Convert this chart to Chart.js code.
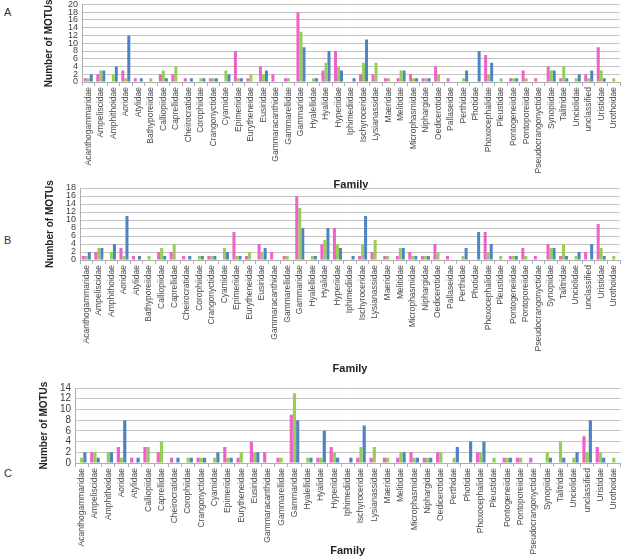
<!DOCTYPE html>
<html>
<head>
<meta charset="utf-8">
<script src="https://cdn.jsdelivr.net/npm/chart.js@4.4.1/dist/chart.umd.min.js"></script>
<style>
  body { margin: 0; background: #fff; width: 625px; height: 560px; position: relative; overflow: hidden; }
  canvas { position: absolute; left: 0; }
  .tag { position: absolute; left: 4px; font: 11px "Liberation Sans", Arial, sans-serif; color: #333; }
</style>
</head>
<body>
<div class="tag" style="top:6px">A</div>
<div class="tag" style="top:234px">B</div>
<div class="tag" style="top:467px">C</div>
<canvas id="chart-a" width="625" height="196" style="top:-4px"></canvas>
<canvas id="chart-b" width="625" height="205" style="top:171px"></canvas>
<canvas id="chart-c" width="625" height="187" style="top:371px"></canvas>
<script>
// families shown in panels A and B
var familiesAB = ['Acanthogammaridae', 'Ampeliscidae', 'Amphithoidae', 'Aoridae', 'Atylidae',
    'Bathyporeiidae', 'Calliopiidae', 'Caprellidae', 'Cheirocratidae', 'Corophiidae',
    'Crangonyctidae', 'Cyamidae', 'Epimeriidae', 'Eurytheneidae', 'Eusiridae',
    'Gammaracanthidae', 'Gammarellidae', 'Gammaridae', 'Hyalellidae', 'Hyalidae',
    'Hyperiidae', 'Iphimediidae', 'Ischyroceridae', 'Lysianassidae', 'Maeridae',
    'Melitidae', 'Microphasmidae', 'Niphargidae', 'Oedicerotidae', 'Pallaseidae',
    'Perthidae', 'Photidae', 'Phoxocephalidae', 'Pleustidae', 'Pontogeneiidae',
    'Pontoporeiidae', 'Pseudocrangonyctidae', 'Synopiidae', 'Talitridae', 'Unciolidae',
    'unclassified', 'Uristidae', 'Urothoidae'];

// panel C has no Bathyporeiidae / Pallaseidae
var familiesC = ['Acanthogammaridae', 'Ampeliscidae', 'Amphithoidae', 'Aoridae', 'Atylidae',
    'Calliopiidae', 'Caprellidae', 'Cheirocratidae', 'Corophiidae', 'Crangonyctidae',
    'Cyamidae', 'Epimeriidae', 'Eurytheneidae', 'Eusiridae', 'Gammaracanthidae',
    'Gammarellidae', 'Gammaridae', 'Hyalellidae', 'Hyalidae', 'Hyperiidae',
    'Iphimediidae', 'Ischyroceridae', 'Lysianassidae', 'Maeridae', 'Melitidae',
    'Microphasmidae', 'Niphargidae', 'Oedicerotidae', 'Perthidae', 'Photidae',
    'Phoxocephalidae', 'Pleustidae', 'Pontogeneiidae', 'Pontoporeiidae', 'Pseudocrangonyctidae',
    'Synopiidae', 'Talitridae', 'Unciolidae', 'unclassified', 'Uristidae', 'Urothoidae'];

var aPink  = [1,2,0,3,1,0,2,2,1,0,1,0,8,1,4,2,1,18,0,3,8,0,2,2,1,1,2,1,4,1,0,0,7,0,1,3,1,4,1,0,2,9,0];
var aGreen = [1,3,2,1,0,1,3,4,0,1,1,3,1,2,2,0,1,13,1,5,4,0,5,5,1,3,1,1,2,0,1,0,2,1,1,1,0,3,4,1,1,3,1];
var aBlue  = [2,3,4,12,1,0,1,0,1,1,1,2,1,0,3,0,0,9,1,8,3,1,11,0,0,3,1,1,0,0,3,8,5,0,1,0,0,3,1,2,3,1,0];

var bPink  = [1,2,0,3,1,0,2,2,1,0,1,0,7,1,4,2,1,16,0,4,8,0,1,2,1,1,2,1,4,1,0,0,7,0,1,3,1,4,1,0,2,9,0];
var bGreen = [1,3,2,1,0,1,3,4,0,1,1,3,1,2,2,0,1,13,1,5,4,0,4,5,1,3,1,1,2,0,1,0,2,1,1,1,0,3,4,1,0,3,1];
var bBlue  = [2,3,4,11,1,0,1,0,1,1,1,2,1,0,3,0,0,8,1,8,3,1,11,0,0,3,1,1,0,0,3,7,4,0,1,0,0,3,1,2,4,1,0];

var cPink  = [0,2,0,3,1,3,2,1,0,1,0,3,1,4,2,1,9,0,1,3,0,1,1,1,1,2,1,2,0,0,2,0,1,1,1,0,0,0,5,3,0];
var cGreen = [1,2,2,1,0,3,4,0,1,1,1,1,2,2,0,1,13,1,1,2,0,3,3,1,2,1,1,2,1,0,2,1,1,1,0,2,4,1,2,2,1];
var cBlue  = [2,1,2,8,1,0,0,1,1,1,2,1,0,2,0,0,8,1,6,1,1,7,0,0,2,1,1,0,3,4,4,0,1,0,0,1,1,2,8,1,0];

var yMaxA = 20, yMaxB = 18, yMaxC = 14;

var pink = '#ef62c6';
var green = '#96cf55';
var blue = '#4f83c4';
var fontFace = '"Liberation Sans", Arial, sans-serif';

function panel(id, labels, p, g, b, yMax, padTop, padLeft, yWidth, xHeight, tickSize) {
    return new Chart(document.getElementById(id), {
        type: 'bar',
        data: {
            labels: labels,
            datasets: [
                { label: 'Series 1', data: p, backgroundColor: pink },
                { label: 'Series 2', data: g, backgroundColor: green },
                { label: 'Series 3', data: b, backgroundColor: blue }
            ]
        },
        options: {
            responsive: false,
            animation: false,
            datasets: { bar: { categoryPercentage: 0.72, barPercentage: 1.0 } },
            layout: { padding: { left: padLeft, top: padTop, right: 3, bottom: 0 } },
            plugins: { legend: { display: false }, tooltip: { enabled: false } },
            scales: {
                y: {
                    min: 0,
                    max: yMax,
                    afterFit: function (s) { s.width = yWidth; },
                    ticks: {
                        stepSize: 2, autoSkip: false, padding: 4, color: '#404040',
                        font: { family: fontFace, size: tickSize, lineHeight: 1 }
                    },
                    grid: { color: '#c4c4c4', drawTicks: false },
                    border: { color: '#b0b0b0' },
                    title: {
                        display: true, text: 'Number of MOTUs', color: '#222', padding: 0,
                        font: { family: fontFace, size: 10, weight: 'bold' }
                    }
                },
                x: {
                    afterFit: function (s) { s.height = xHeight; },
                    ticks: {
                        autoSkip: false, maxRotation: 90, minRotation: 90, padding: 1,
                        color: '#4a4a4a', font: { family: fontFace, size: 8.5 }
                    },
                    grid: { drawOnChartArea: false, offset: true, tickLength: 4, color: '#b0b0b0' },
                    border: { color: '#b0b0b0' },
                    title: {
                        display: true, text: 'Family', color: '#222', padding: 0,
                        font: { family: fontFace, size: 11, weight: 'bold' }
                    }
                }
            }
        }
    });
}

var chartA = panel('chart-a', familiesAB, aPink, aGreen, aBlue, yMaxA, 7, 43, 39, 110, 9);
var chartB = panel('chart-b', familiesAB, bPink, bGreen, bBlue, yMaxB, 17, 44, 36, 116, 9);
var chartC = panel('chart-c', familiesC, cPink, cGreen, cBlue, yMaxC, 17, 38, 37, 95, 10);
</script>
</body>
</html>
